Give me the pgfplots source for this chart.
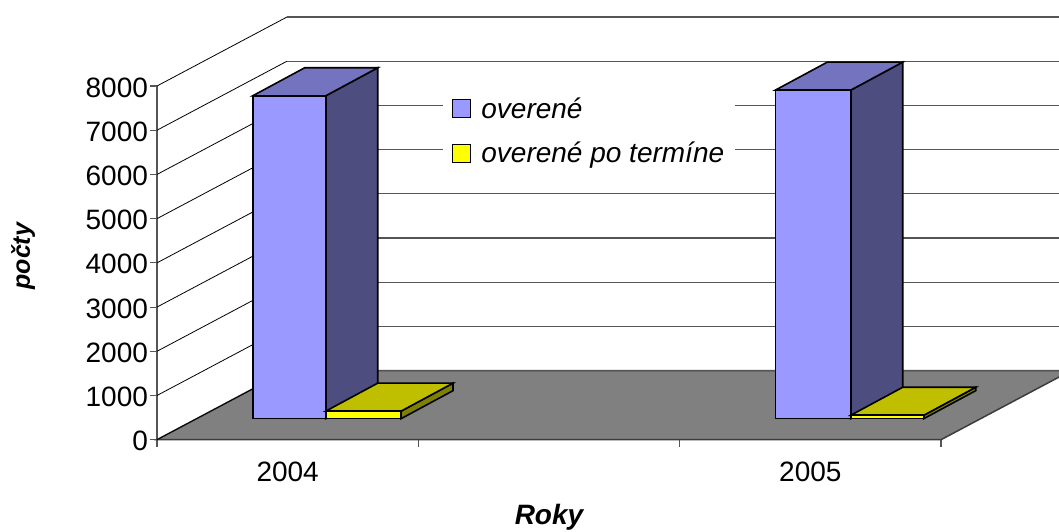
\documentclass[border=0pt]{standalone}
\usepackage{fontspec}
\setmainfont{Liberation Sans}
\usepackage{pgfplots}
\pgfplotsset{compat=1.18}
\definecolor{barA}{HTML}{9999FF}
\definecolor{barAside}{HTML}{4D4D80}
\definecolor{barAtop}{HTML}{7373BF}
\definecolor{barB}{HTML}{FFFF00}
\definecolor{barBside}{HTML}{808000}
\definecolor{barBtop}{HTML}{BFBF00}
\definecolor{floorc}{HTML}{808080}
\definecolor{gridc}{HTML}{555555}
% left, right, value, front, side, top
\newcommand{\threeDbar}[6]{%
  \pgfmathsetmacro{\yb}{475.2}%
  \pgfmathsetmacro{\yt}{475.2+#3}%
  \pgfmathsetmacro{\xrb}{#2+0.199}%
  \pgfmathsetmacro{\xlb}{#1+0.199}%
  \pgfmathsetmacro{\ybb}{\yb+634}%
  \pgfmathsetmacro{\ytb}{\yt+634}%
  \addplot[forget plot,fill=#5,draw=black,line width=1.6pt] coordinates {(#2,\yb)(\xrb,\ybb)(\xrb,\ytb)(#2,\yt)} -- cycle;
  \addplot[forget plot,fill=#6,draw=black,line width=1.6pt] coordinates {(#1,\yt)(#2,\yt)(\xrb,\ytb)(\xlb,\ytb)} -- cycle;
  \addplot[forget plot,fill=#4,draw=black,line width=1.6pt] coordinates {(#1,\yb)(#2,\yb)(#2,\yt)(#1,\yt)} -- cycle;
}
\newcommand{\wallline}[1]{%
  \pgfmathsetmacro{\vb}{1561+#1}%
  \addplot[forget plot,draw=black,line width=0.8pt] coordinates {(-0.5,#1)(-0.0025,\vb)};
  \addplot[forget plot,draw=gridc,line width=1.1pt] coordinates {(-0.0025,\vb)(2.9975,\vb)};
}
\begin{document}
\begin{tikzpicture}
\useasboundingbox (0,0) rectangle (1059pt,531pt);
\clip (0,0) rectangle (1059pt,531pt);
\begin{axis}[
  at={(157pt,91.3pt)},anchor=south west,
  scale only axis,width=784pt,height=353.7pt,
  xmin=-0.5,xmax=2.5,ymin=0,ymax=8000,clip=false,no markers,
  axis x line=bottom,axis y line=left,
  axis line style={-,draw=gridc,line width=1.1pt},
  tick style={draw=gridc,line width=1.1pt},
  tick align=outside,major tick length=7pt,
  xtick={-0.5,0.5,1.5,2.5},xticklabels={},
  extra x ticks={0,2},extra x tick labels={2004,2005},
  extra x tick style={major tick length=0pt,xticklabel style={yshift=-19pt}},
  ytick={0,1000,...,8000},
  /pgf/number format/assume math mode=true,
  /pgf/number format/1000 sep={},
  yticklabel style={/pgf/number format/1000 sep={},xshift=1.5pt,yshift=-1.5pt},
  tick label style={font=\fontsize{28}{32}\selectfont},
  xlabel={\bfseries\itshape Roky},
  ylabel={\bfseries\itshape počty},
  xlabel style={at={(axis description cs:0.5,-0.2185)},anchor=center,font=\fontsize{28}{32}\selectfont},
  ylabel style={at={(axis description cs:-0.1709,0.519)},anchor=center,rotate=0,font=\fontsize{25}{30}\selectfont},
  legend cell align=left,
  legend style={at={(axis cs:0.594,7880)},anchor=north west,draw=none,fill=white,
    font=\fontsize{28}{32}\itshape\selectfont,row sep=18.5pt,inner xsep=9pt,inner ysep=4pt,
    /tikz/every odd column/.append style={column sep=8pt}},
  legend image code/.code={\draw[line width=1.3pt,#1] (0pt,-9pt) rectangle (18pt,9pt);},
]
\addplot[forget plot,fill=floorc,draw=gridc!70!black,line width=1.5pt] coordinates {(-0.5,0)(2.5,0)(2.9975,1561)(-0.0025,1561)} -- cycle;
\pgfplotsinvokeforeach{0,1000,2000,3000,4000,5000,6000,7000,8000}{\wallline{#1}}
\threeDbar{-0.1338}{0.1456}{7303}{barA}{barAside}{barAtop}
\threeDbar{0.1456}{0.4337}{170}{barB}{barBside}{barBtop}
\threeDbar{1.866}{2.1545}{7431}{barA}{barAside}{barAtop}
\threeDbar{2.1545}{2.4338}{77}{barB}{barBside}{barBtop}
\addlegendimage{fill=barA,draw=black}
\addlegendentry{overené}
\addlegendimage{fill=barB,draw=black}
\addlegendentry{overené po termíne}
\end{axis}
\end{tikzpicture}
\end{document}
